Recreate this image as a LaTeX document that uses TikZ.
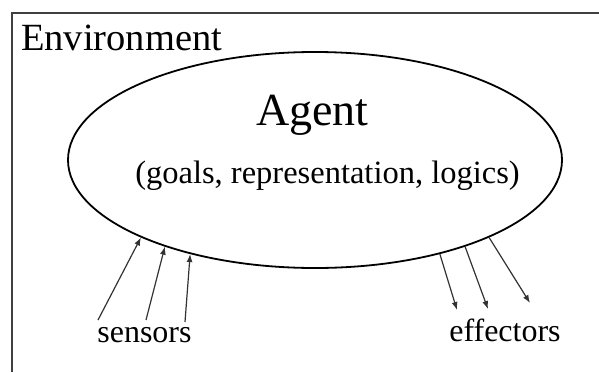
\documentclass[tikz,border=0pt]{standalone}
\usepackage{fontspec}
\setmainfont{Liberation Serif}
\usetikzlibrary{shapes.geometric,arrows.meta}
\begin{document}
\begin{tikzpicture}[x=1pt,y=-1pt,
    frame/.style={line width=2pt,draw=black!75},
    agentshape/.style={ellipse,draw,line width=1.8pt,minimum width=494pt,minimum height=216pt,inner sep=0pt},
    label/.style={inner sep=0pt,anchor=base},
    sig/.style={line width=1.2pt,draw=black!80,-{Latex[length=8pt,width=6pt]}}]
        \useasboundingbox (0,0) rectangle (599,372);
        \draw[frame] (12,372) -- (12,13) -- (599,13);

        \node[agentshape] (agent) at (315,160) {};
        \node[label,anchor=base west] (env) at (21,50) {\fontsize{38.5}{40}\selectfont Environment};
        \node[label] (name) at (312.5,125) {\fontsize{46}{50}\selectfont Agent};
        \node[label] (parts) at (327.5,183) {\fontsize{32.5}{36}\selectfont (goals, representation, logics)};
        \node[label] (sensors) at (144.5,342) {\fontsize{32}{36}\selectfont sensors};
        \node[label] (effectors) at (505,341) {\fontsize{32}{36}\selectfont effectors};

        \coordinate (s1) at (98,320);
        \coordinate (s2) at (146,320);
        \coordinate (s3) at (185,322);
        \coordinate (e1) at (457,310);
        \coordinate (e2) at (488,309);
        \coordinate (e3) at (530,303);

        \draw[sig] (s1) -- (agent.204);
        \draw[sig] (s2) -- (agent.210);
        \draw[sig] (s3) -- (agent.217);
        \draw[sig] (agent.323.8) -- (e1);
        \draw[sig] (agent.330.5) -- (e2);
        \draw[sig] (agent.336.4) -- (e3);
\end{tikzpicture}
\end{document}
